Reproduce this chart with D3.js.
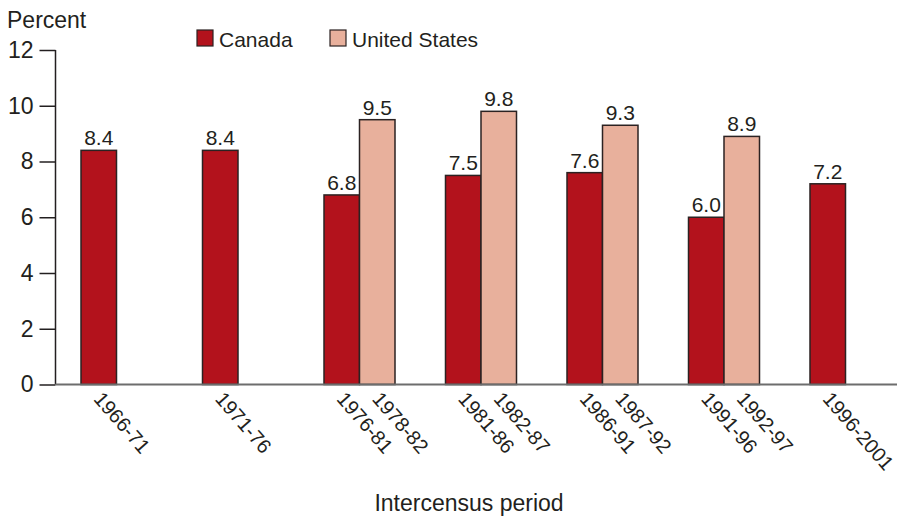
<!DOCTYPE html>
<html><head><meta charset="utf-8">
<script src="https://cdn.jsdelivr.net/npm/d3@7"></script>
<style>body{margin:0;background:#fff}svg text{font-family:"Liberation Sans",Arial,sans-serif;fill:#231f20}</style>
</head><body><svg id="c" width="897" height="517"></svg>
<script>
const groups = ["g1","g2","g3","g4","g5","g6","g7"];
const canadaLabels = ["1966-71","1971-76","1976-81","1981-86","1986-91","1991-96","1996-2001"];
const usLabels = [null,null,"1978-82","1982-87","1987-92","1992-97",null];
const canadaValues = [8.4,8.4,6.8,7.5,7.6,6.0,7.2];
const usValues = [null,null,9.5,9.8,9.3,8.9,null];
const yTicks = [0,2,4,6,8,10,12];
const seriesNames = ["Canada","United States"];
const colors = {"Canada":"#b3121c","United States":"#e8b09c"};

const svg = d3.select("#c");
const y = d3.scaleLinear().domain([0,12]).range([384.5,50]);
const x0 = d3.scaleBand().domain(groups).range([81, 81+7*121.5]);
const x1 = d3.scaleBand().domain(seriesNames).range([0,71]);

// y axis
const yAxis = d3.axisLeft(y).tickValues(yTicks).tickSize(16).tickPadding(6).tickFormat(d3.format("d"));
const ga = svg.append("g").attr("transform","translate(55.5,0)").call(yAxis);
ga.select(".domain").attr("d","M0,"+y(12)+"V"+y(0)).attr("stroke","#231f20").attr("stroke-width",1.5);
ga.selectAll(".tick line").attr("stroke","#231f20").attr("stroke-width",1.5);
ga.selectAll(".tick text").attr("font-size",23).attr("font-family","Liberation Sans, Arial, sans-serif").attr("fill","#231f20");

const rows = [];
groups.forEach((g,i)=>{
  rows.push({g, s:"Canada", v:canadaValues[i], lab:canadaLabels[i]});
  if (usValues[i]!=null) rows.push({g, s:"United States", v:usValues[i], lab:usLabels[i]});
});

svg.selectAll("rect.bar").data(rows).join("rect").attr("class","bar")
  .attr("x",d=>x0(d.g)+x1(d.s)).attr("width",x1.bandwidth())
  .attr("y",d=>y(d.v)).attr("height",d=>y(0)-y(d.v))
  .attr("fill",d=>colors[d.s]).attr("stroke","#2b2222").attr("stroke-width",1.5);

// baseline
svg.append("line").attr("x1",55.5).attr("x2",897).attr("y1",y(0)).attr("y2",y(0))
  .attr("stroke","#6d6d6d").attr("stroke-width",1.8);

svg.selectAll("text.val").data(rows).join("text").attr("class","val")
  .attr("x",d=>x0(d.g)+x1(d.s)+x1.bandwidth()/2).attr("y",d=>y(d.v)-5)
  .attr("text-anchor","middle").attr("font-size",21).text(d=>d.v.toFixed(1));

svg.selectAll("text.cat").data(rows).join("text").attr("class","cat")
  .attr("transform",d=>`translate(${x0(d.g)+x1(d.s)+x1.bandwidth()/2-6},${y(0)+15}) rotate(49)`)
  .attr("font-size",20).attr("text-anchor","start").text(d=>d.lab);

svg.append("text").attr("x",7).attr("y",28).attr("font-size",23).text("Percent");
svg.append("text").attr("x",469).attr("y",511).attr("text-anchor","middle").attr("font-size",23).text("Intercensus period");

// legend
const legX = [197,330];
seriesNames.forEach((s,i)=>{
  svg.append("rect").attr("x",legX[i]).attr("y",30).attr("width",16).attr("height",16)
    .attr("fill",colors[s]).attr("stroke","#2b2222").attr("stroke-width",1.2);
  svg.append("text").attr("x",legX[i]+22).attr("y",46.5).attr("font-size",21).text(s);
});
</script></body></html>
